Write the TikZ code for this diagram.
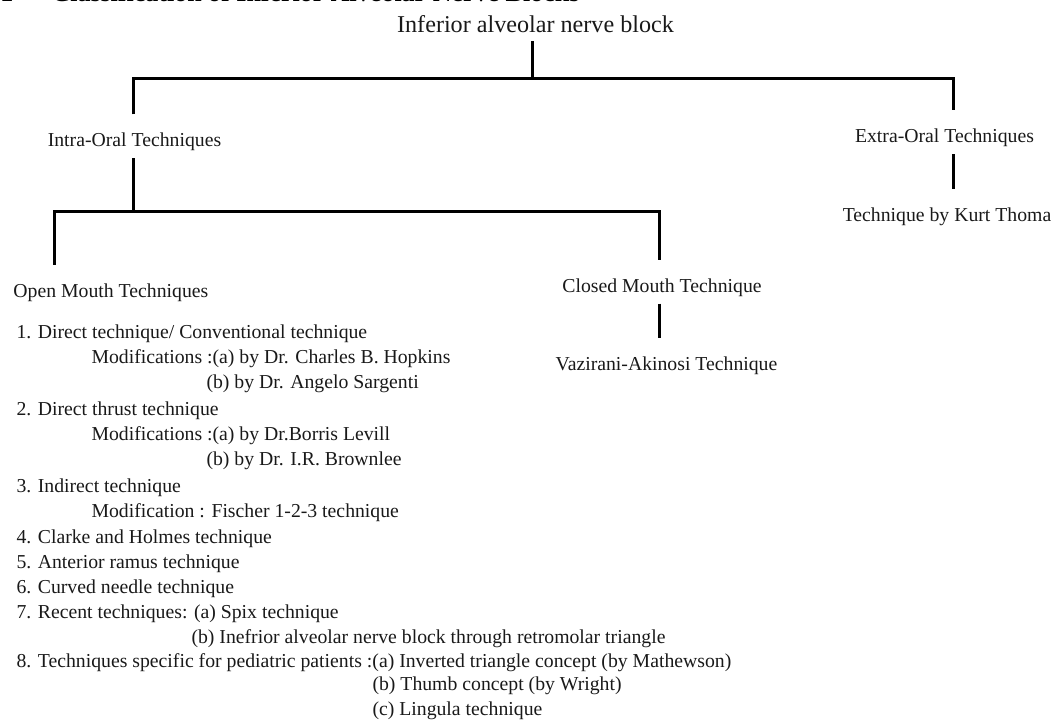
\documentclass[tikz,border=0pt]{standalone}
\usepackage{fontspec}
\setmainfont{Liberation Serif}
\usetikzlibrary{positioning}

\tikzset{every picture/.style={line width=2.25pt}}
\tikzset{
  rootlbl/.style={font=\fontsize{18.1pt}{22pt}\selectfont, text=black!90, inner sep=0pt, text height=13pt, text depth=5.25pt, anchor=base},
  branchlbl/.style={font=\fontsize{14.8pt}{18pt}\selectfont, text=black!90, inner sep=0pt, text height=23.25pt, text depth=7.5pt, anchor=base},
  listline/.style={font=\fontsize{14.8pt}{18pt}\selectfont, text=black!90, inner sep=0pt, anchor=base west},
  titlelbl/.style={font=\bfseries\fontsize{19.5pt}{23pt}\selectfont, inner sep=0pt},
}

\begin{document}
\begin{tikzpicture}[x=0.75pt,y=0.75pt,yscale=-1,xscale=1]
\useasboundingbox (0,0) rectangle (1052,720);

% Title (cut at the top edge)
\node (tabno) [titlelbl, anchor=base east] at (15,2) {Table 1};
\node (title) [titlelbl, anchor=base west] at (50,2) {Classification of Inferior Alveolar Nerve Blocks};

% Tree labels
\node (root) [rootlbl] at (535.5,33) {Inferior alveolar nerve block};
\node (intra) [branchlbl] at (134.5,147) {Intra-Oral Techniques};
\node (extra) [branchlbl] at (944.5,143) {Extra-Oral Techniques};
\node (kurt) [branchlbl] at (947,222) {Technique by Kurt Thoma};
\node (open) [branchlbl, anchor=base west] at (12,297) {Open Mouth Techniques};
\node (closed) [branchlbl] at (662,292) {Closed Mouth Technique};
\node (vaz) [branchlbl] at (666.5,370) {Vazirani-Akinosi Technique};

% Junctions
\coordinate (j0) at (532,79);
\coordinate (barL) at (133,79);
\coordinate (barR) at (953,79);
\coordinate (j1) at (133,212);
\coordinate (bar2L) at (54,212);
\coordinate (bar2R) at (659,212);

% Connectors
\draw (j0 |- root.south) -- (j0);
\draw (barL |- intra.north) -- (barL) -- (barR) -- (barR |- extra.north);
\draw (barR |- extra.south) -- (barR |- kurt.north);
\draw (j1 |- intra.south) -- (j1);
\draw (bar2L |- open.north) -- (bar2L) -- (bar2R) -- (bar2R |- closed.north);
\draw (bar2R |- closed.south) -- (bar2R |- vaz.north);

% Open mouth list
\node (l1) [listline] at (15,338) {1. Direct technique/ Conventional technique};
\node (l2) [listline] at (90,363) {Modifications :(a) by Dr. Charles B. Hopkins};
\node (l3) [listline] at (205,388) {(b) by Dr. Angelo Sargenti};
\node (l4) [listline] at (15,415) {2. Direct thrust technique};
\node (l5) [listline] at (90,440) {Modifications :(a) by Dr.Borris Levill};
\node (l6) [listline] at (205,465) {(b) by Dr. I.R. Brownlee};
\node (l7) [listline] at (15,492) {3. Indirect technique};
\node (l8) [listline] at (90,517) {Modification : Fischer 1-2-3 technique};
\node (l9) [listline] at (15,543) {4. Clarke and Holmes technique};
\node (l10) [listline] at (15,568) {5. Anterior ramus technique};
\node (l11) [listline] at (15,593) {6. Curved needle technique};
\node (l12) [listline] at (15,618) {7. Recent techniques: (a) Spix technique};
\node (l13) [listline] at (190,643) {(b) Inefrior alveolar nerve block through retromolar triangle};
\node (l14) [listline] at (15,667) {8. Techniques specific for pediatric patients :(a) Inverted triangle concept (by Mathewson)};
\node (l15) [listline] at (371,690) {(b) Thumb concept (by Wright)};
\node (l16) [listline] at (371,715) {(c) Lingula technique};

\end{tikzpicture}
\end{document}
